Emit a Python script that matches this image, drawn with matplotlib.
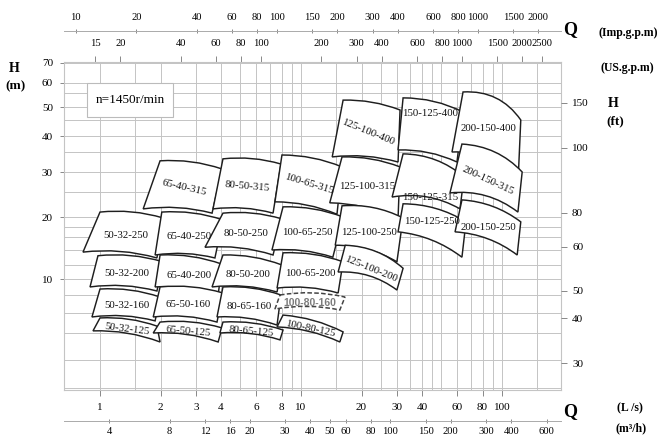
import numpy as np
import matplotlib
matplotlib.use("Agg")
import matplotlib.pyplot as plt
from matplotlib.path import Path
from matplotlib.patches import PathPatch, Rectangle
from matplotlib.ticker import FixedLocator, NullLocator, NullFormatter

plt.rcParams['font.family'] = ['Liberation Serif', 'DejaVu Serif']

# ---------------- data ----------------
pump_names = ["125-100-400", "150-125-400", "200-150-400",
              "65-40-315", "80-50-315", "100-65-315", "125-100-315", "150-125-315", "200-150-315",
              "50-32-250", "65-40-250", "80-50-250", "100-65-250", "125-100-250", "150-125-250", "200-150-250",
              "50-32-200", "65-40-200", "80-50-200", "100-65-200", "125-100-200",
              "50-32-160", "65-50-160", "80-65-160", "100-80-160",
              "50-32-125", "65-50-125", "80-65-125", "100-80-125"]
# flow Q (L/s) and head H (m) at the four corners of each operating field
q_top_left = [16.2, 32.2, 64.0,
              1.99, 4.09, 8.04, 16.0, 32.2, 63.2,
              1.0, 2.03, 4.09, 8.14, 16.0, 32.2, 63.2,
              0.977, 1.99, 4.09, 8.14, 16.6,
              1.0, 1.99, 4.09, 7.86,
              1.0, 1.99, 4.09, 8.14]
h_top_left = [52.4, 53.2, 55.5,
              32.7, 33.2, 34.2, 33.7, 34.5, 37.4,
              20.9, 20.9, 20.7, 21.9, 22.1, 22.5, 23.3,
              13.2, 13.3, 13.3, 13.6, 14.7,
              9.36, 9.49, 9.49, 9.0,
              7.74, 7.53, 7.53, 7.89]
q_top_right = [31.1, 64.0, 124.0,
               4.05, 7.95, 16.0, 31.1, 64.7, 126.0,
               2.06, 4.09, 8.04, 16.2, 32.2, 66.2, 124.0,
               2.06, 4.05, 8.04, 16.2, 32.2,
               1.99, 4.09, 7.95, 16.55,
               1.92, 4.05, 8.14, 16.2]
h_top_right = [48.8, 48.0, 45.0,
               30.7, 31.9, 31.2, 31.2, 28.7, 30.0,
               19.8, 19.4, 19.6, 20.0, 19.8, 19.0, 19.0,
               12.4, 12.1, 12.0, 12.4, 11.5,
               8.88, 9.12, 9.0, 8.88,
               7.33, 7.24, 7.14, 7.05]
q_bot_right = [30.4, 59.7, 120.0,
               3.61, 7.26, 15.1, 30.4, 61.8, 120.0,
               1.92, 3.73, 7.26, 14.4, 30.0, 63.2, 119.0,
               1.92, 3.87, 7.60, 15.3, 30.0,
               1.88, 3.82, 7.60, 15.6,
               1.99, 3.87, 7.86, 15.6]
h_bot_right = [32.4, 32.4, 26.7,
               20.7, 20.7, 20.5, 19.8, 21.5, 20.9,
               12.9, 12.9, 13.3, 13.0, 12.4, 13.0, 13.3,
               9.24, 9.0, 9.18, 9.12, 9.30,
               7.59, 7.53, 7.38, 8.16,
               6.65, 6.65, 6.73, 6.65]
q_bot_left = [14.3, 30.4, 56.4,
              1.64, 3.65, 7.42, 13.9, 28.4, 55.1,
              0.823, 1.88, 3.33, 7.17, 14.8, 30.4, 58.4,
              0.892, 1.88, 3.61, 7.60, 15.3,
              0.912, 1.84, 3.82, 7.42,
              0.923, 1.84, 3.95, 7.60]
h_bot_left = [33.7, 35.6, 35.0,
              21.5, 21.5, 22.9, 22.7, 23.9, 24.8,
              13.7, 13.3, 14.4, 14.0, 14.7, 17.0, 17.0,
              9.49, 9.49, 9.49, 9.42, 10.95,
              7.79, 7.79, 7.79, 8.21,
              7.10, 7.0, 7.0, 7.29]

# axis ticks / labels
ls_ticks = [1, 2, 3, 4, 6, 8, 10, 20, 30, 40, 60, 80, 100]
m3h_ticks = [4, 8, 12, 16, 20, 30, 40, 50, 60, 80, 100, 150, 200, 300, 400, 600]
imp_ticks = [10, 20, 40, 60, 80, 100, 150, 200, 300, 400, 600, 800, 1000, 1500, 2000]
us_ticks = [15, 20, 40, 60, 80, 100, 200, 300, 400, 600, 800, 1000, 1500, 2000, 2500]
hm_ticks = [10, 20, 30, 40, 50, 60, 70]
hft_ticks = [30, 40, 50, 60, 80, 100, 150]
q_grid = [1, 1.5, 2, 3, 4, 5, 6, 7, 8, 9, 10, 15, 20, 25, 30, 35, 40, 45, 50, 60, 70, 80, 90, 100, 150]
h_grid = [5, 6, 7, 8, 9, 10, 12, 14, 16, 18, 20, 25, 30, 35, 40, 45, 50, 55, 60, 70]

# unit conversions from L/s
M3H, IMP, USG = 3.6, 13.198, 15.850

# ---------------- layout / scale definitions ----------------
W, H = 668, 440
AX_L, AX_R, AX_T, AX_B = 64, 561, 62, 390
# the printed head scales are non-uniform: anchor values -> vertical pixel position
HM_ANCH = np.log10([4, 5, 6, 7, 8, 9, 10, 12, 14, 16, 18, 20, 25, 30, 35, 40, 45, 50, 55, 60, 70, 80])
HM_POS = -np.array([422, 388, 360, 333, 313, 295, 279, 265, 250, 237, 227, 217, 192, 172, 152,
                    136, 120, 107, 93, 83, 63, 45.7])
FT_ANCH = np.log10([20, 30, 40, 50, 60, 80, 100, 150, 250])
FT_POS = -np.array([426, 363, 318, 291, 247, 213, 148, 103, 46])


def make_scale(anch, pos):
    def fwd(v):
        v = np.asarray(v, dtype=float)
        return np.interp(np.log10(np.clip(v, 1e-6, None)), anch, pos)

    def inv(t):
        t = np.asarray(t, dtype=float)
        return 10 ** np.interp(t, pos, anch)
    return fwd, inv


hm_fwd, hm_inv = make_scale(HM_ANCH, HM_POS)
ft_fwd, ft_inv = make_scale(FT_ANCH, FT_POS)

fig = plt.figure(figsize=(W / 100, H / 100), dpi=100)
fig.patch.set_facecolor('white')
ax = fig.add_axes([AX_L / W, 1 - AX_B / H, (AX_R - AX_L) / W, (AX_B - AX_T) / H])
ax.set_xscale('log')
ax.set_xlim(10 ** ((AX_L - 100) / 201), 10 ** ((AX_R - 100) / 201))
ax.set_yscale('function', functions=(hm_fwd, hm_inv))
ax.set_ylim(float(hm_inv(-AX_B)), float(hm_inv(-AX_T)))

GRID_C = '#c4c4c4'
TICK_C = '#888888'
TL_SIZE = 8
ax.xaxis.set_major_locator(FixedLocator(ls_ticks))
ax.xaxis.set_minor_locator(FixedLocator(q_grid))
ax.set_xticklabels([f"{v:g}" for v in ls_ticks])
ax.xaxis.set_minor_formatter(NullFormatter())
ax.yaxis.set_major_locator(FixedLocator(hm_ticks))
ax.yaxis.set_minor_locator(FixedLocator(h_grid))
ax.set_yticklabels([f"{v:g}" for v in hm_ticks])
ax.yaxis.set_minor_formatter(NullFormatter())
ax.grid(True, which='both', color=GRID_C, lw=0.7)
ax.set_axisbelow(True)
ax.tick_params(axis='x', which='major', length=4, pad=5, color=TICK_C, labelsize=TL_SIZE, width=0.7)
ax.tick_params(axis='y', which='major', length=3, pad=5, color=TICK_C, labelsize=TL_SIZE, width=0.7)
ax.tick_params(which='minor', length=0)
for s in ax.spines.values():
    s.set_color(GRID_C)
    s.set_linewidth(0.8)

# US gpm on the top edge
sec_us = ax.secondary_xaxis('top', functions=(lambda q: q * USG, lambda g: g / USG))
sec_us.set_xticks(us_ticks, [f"{v:g}" for v in us_ticks])
sec_us.xaxis.set_minor_locator(NullLocator())
sec_us.tick_params(length=4, pad=6, color=TICK_C, labelsize=7.6, width=0.7)
sec_us.spines['top'].set_visible(False)

# Imp gpm above
sec_imp = ax.secondary_xaxis(1 + 31 / (AX_B - AX_T), functions=(lambda q: q * IMP, lambda g: g / IMP))
sec_imp.set_xticks(imp_ticks, [f"{v:g}" for v in imp_ticks])
sec_imp.xaxis.set_minor_locator(NullLocator())
sec_imp.tick_params(length=3, pad=5, color=TICK_C, labelsize=7.6, width=0.7, direction='inout')
sec_imp.spines['top'].set_color('#aaaaaa')
sec_imp.spines['top'].set_linewidth(0.7)

# m3/h below
sec_m3 = ax.secondary_xaxis(-31 / (AX_B - AX_T), functions=(lambda q: q * M3H, lambda v: v / M3H))
sec_m3.set_xticks(m3h_ticks, [f"{v:g}" for v in m3h_ticks])
sec_m3.xaxis.set_minor_locator(NullLocator())
sec_m3.tick_params(length=3, pad=3, color=TICK_C, labelsize=7.6, width=0.7, direction='inout')
sec_m3.spines['bottom'].set_color('#aaaaaa')
sec_m3.spines['bottom'].set_linewidth(0.7)

# ---------------- operating fields ----------------
curv = {"200-150-400": 0.28, "200-150-315": 0.2, "150-125-315": 0.18, "125-100-200": 0.18,
        "150-125-400": 0.12, "200-150-250": 0.15, "125-100-250": 0.14, "150-125-250": 0.14}
rot = {"65-40-315": -13, "80-50-315": -5, "100-65-315": -17, "125-100-400": -22,
       "125-100-200": -22, "200-150-315": -25, "50-32-125": -7, "65-50-125": -5,
       "80-65-125": -5, "100-80-125": -12}
lab_shift = {"150-125-400": 17, "200-150-400": 9, "150-125-315": -13, "150-125-250": 7}
dashed = {"100-80-160"}

to_disp = ax.transData.transform
to_data = ax.transData.inverted().transform


def ctrl(p0, p1, k):
    d = p1 - p0
    return (p0 + p1) / 2 + np.array([-d[1], d[0]]) * k


for i, name in enumerate(pump_names):
    pts = to_disp(np.array([[q_top_left[i], h_top_left[i]], [q_top_right[i], h_top_right[i]],
                            [q_bot_right[i], h_bot_right[i]], [q_bot_left[i], h_bot_left[i]]]))
    tl, tr, br, bl = pts
    k = curv.get(name, 0.10)
    c1 = ctrl(tl, tr, k)
    c2 = ctrl(bl, br, k)
    verts = to_data(np.array([tl, c1, tr, br, c2, bl, tl]))
    codes = [Path.MOVETO, Path.CURVE3, Path.CURVE3, Path.LINETO, Path.CURVE3, Path.CURVE3, Path.CLOSEPOLY]
    if name in dashed:
        patch = PathPatch(Path(verts, codes), facecolor='white', edgecolor='#444444', lw=1.1,
                          linestyle=(0, (3, 1.5)), zorder=3 + i * 0.01)
    else:
        patch = PathPatch(Path(verts, codes), facecolor='white', edgecolor='#1e1e1e', lw=1.05,
                          zorder=3 + i * 0.01)
    ax.add_patch(patch)
    cen = pts.mean(axis=0) + np.array([0, lab_shift.get(name, 0)])
    cq, ch = to_data(cen)
    if name in dashed:
        ax.text(cq, ch, name, ha='center', va='center', fontsize=7.5, color='#7c7c7c',
                family=['Liberation Sans', 'DejaVu Sans'], weight='bold', zorder=10)
    else:
        ax.text(cq, ch, name, ha='center', va='center', fontsize=7.8, color='#111111',
                rotation=rot.get(name, 0), rotation_mode='anchor', zorder=10)

# speed note box
ax.add_patch(Rectangle((87 / W, 1 - 117 / H), 86 / W, 34 / H, transform=fig.transFigure,
                       facecolor='white', edgecolor='#bbbbbb', lw=0.8, zorder=2.5, clip_on=False))
fig.text(130 / W, 1 - 100 / H, "n=1450r/min", ha='center', va='center', fontsize=9.5, zorder=5)

# right head axis in ft
axr = ax.twinx()
axr.set_yscale('function', functions=(ft_fwd, ft_inv))
axr.set_ylim(float(ft_inv(-AX_B)), float(ft_inv(-AX_T)))
axr.yaxis.set_major_locator(FixedLocator(hft_ticks))
axr.yaxis.set_minor_locator(NullLocator())
axr.set_yticklabels([f"{v:g}" for v in hft_ticks])
axr.tick_params(axis='y', length=4, pad=4, color=TICK_C, labelsize=TL_SIZE, width=0.7)
for s in axr.spines.values():
    s.set_visible(False)

# axis titles
fig.text(14 / W, 1 - 68 / H, "H", ha='center', va='center', fontsize=10, weight='bold')
fig.text(16 / W, 1 - 86 / H, "(m)", ha='center', va='center', fontsize=9.5, weight='bold')
fig.text(613 / W, 1 - 103 / H, "H", ha='center', va='center', fontsize=10, weight='bold')
fig.text(615 / W, 1 - 121 / H, "(ft)", ha='center', va='center', fontsize=9.5, weight='bold')
fig.text(570 / W, 1 - 30 / H, "Q", ha='center', va='center', fontsize=13, weight='bold')
fig.text(628 / W, 1 - 33 / H, "(Imp.g.p.m)", ha='center', va='center', fontsize=8.5, weight='bold')
fig.text(627 / W, 1 - 68 / H, "(US.g.p.m)", ha='center', va='center', fontsize=8.5, weight='bold')
fig.text(570 / W, 1 - 412 / H, "Q", ha='center', va='center', fontsize=13, weight='bold')
fig.text(630 / W, 1 - 408 / H, "(L /s)", ha='center', va='center', fontsize=8.5, weight='bold')
fig.text(631 / W, 1 - 428 / H, "(m³/h)", ha='center', va='center', fontsize=8.5, weight='bold')

fig.savefig("out.png", dpi=100, facecolor='white')
